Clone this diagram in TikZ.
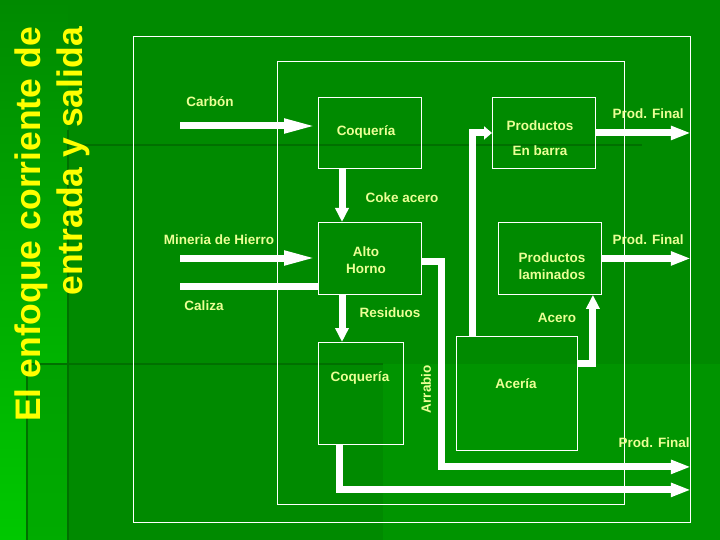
\documentclass[tikz,border=0pt]{standalone}
\usepackage{fontspec}
\setmainfont{Liberation Sans}
\usetikzlibrary{arrows.meta,calc}
\definecolor{bg}{RGB}{0,138,0}
\definecolor{bglow}{RGB}{0,148,0}
\definecolor{bgdark}{RGB}{0,112,0}
\definecolor{bglight}{RGB}{0,200,0}
\definecolor{txt}{RGB}{235,255,150}
\definecolor{ttl}{RGB}{255,255,0}
\begin{document}
\begin{tikzpicture}[x=1pt,y=-1pt,
  box/.style={draw=white,line width=0.9pt,inner sep=0pt,anchor=north west},
  lbl/.style={text=txt,font=\bfseries\fontsize{13.5}{15}\selectfont,inner sep=0pt},
  ttlstyle/.style={rotate=90,anchor=base east,inner sep=0pt,text=ttl,font=\bfseries\fontsize{35.5}{38}\selectfont},
  flow/.style={draw=white,line width=7pt},
  bighead/.style={-{Triangle[length=34pt,width=13pt]}},
  midhead/.style={-{Triangle[length=20pt,width=13pt]}},
  vhead/.style={-{Triangle[length=14pt,width=13pt]}},
  smallhead/.style={-{Triangle[length=8pt,width=13pt]}},
  deco/.style={draw=bgdark,line width=2.5pt}]
\useasboundingbox (0,0) rectangle (720,540);
% background
\fill[bg] (0,0) rectangle (720,540);
\shade[top color=bg,bottom color=bglight] (0,0) rectangle (68,540);
\fill[bg,opacity=0.45] (27,364) rectangle (68,540);
\fill[bglow] (383,364) rectangle (720,540);
\draw[deco] (68,130) -- (68,540);
\draw[deco] (27,364) -- (27,540);
\draw[deco] (30,364) -- (383,364);
\draw[deco] (68,145) -- (642,145);
% title
\node[ttlstyle] (t1) at (40,27) {El enfoque corriente de};
\node[ttlstyle] (t2) at (82,27) {entrada y salida};
% frames
\node[box,minimum width=557pt,minimum height=486pt] (outer) at (133,36) {};
\node[box,minimum width=347pt,minimum height=443pt] (inner) at (277,61) {};
% process boxes
\node[box,minimum width=103pt,minimum height=71pt] (coq1) at (318,97) {};
\node[box,minimum width=103pt,minimum height=71pt] (prodbar) at (492,97) {};
\node[box,minimum width=103pt,minimum height=72pt] (alto) at (318,222) {};
\node[box,minimum width=103pt,minimum height=72pt] (prodlam) at (498,222) {};
\node[box,minimum width=85pt,minimum height=102pt] (coq2) at (318,342) {};
\node[box,minimum width=121pt,minimum height=114pt] (aceria) at (456,336) {};
% free ends
\coordinate (carbonIn) at (180,126);
\coordinate (hierroIn) at (180,258);
\coordinate (calizaIn) at (180,286);
% flows
\draw[flow,bighead] (carbonIn) -- (carbonIn -| coq1.west);
\draw[flow,vhead] ($(coq1.south west)+(24,0)$) -- ($(alto.north west)+(24,0)$);
\draw[flow,midhead] (prodbar.east) -- (prodbar.east -| outer.east);
\draw[flow,bighead] (hierroIn) -- (hierroIn -| alto.west);
\draw[flow] (calizaIn) -- (calizaIn -| alto.west);
\draw[flow,vhead] ($(alto.south west)+(24,0)$) -- ($(coq2.north west)+(24,0)$);
\draw[flow,midhead] ($(alto.east)+(0,3)$) -- ($(alto.east)+(20,3)$) |- ($(outer.south east)+(0,-56)$);
\draw[flow,midhead] ($(coq2.south west)+(21,0)$) |- ($(outer.south east)+(0,-33)$);
\draw[flow,smallhead] ($(aceria.north west)+(16,0)$) |- (prodbar.west);
\draw[flow,vhead] ($(aceria.north east)+(0,27)$) -| ($(prodlam.south east)+(-9,0)$);
\draw[flow,midhead] (prodlam.east) -- (prodlam.east -| outer.east);
% labels
\node[lbl] (lcarbon) at (210,102) {Carbón};
\node[lbl] (lcoq1) at (366,132) {Coquería};
\node[lbl] (lprod1) at (540,126) {Productos};
\node[lbl] (lbarra) at (540,151) {En barra};
\node[lbl] (lpf1) at (648,114) {Prod. Final};
\node[lbl] (lcoke) at (402,198) {Coke acero};
\node[lbl] (lhierro) at (219,240) {Mineria de Hierro};
\node[lbl] (lalto) at (366,252) {Alto};
\node[lbl] (lhorno) at (366,269) {Horno};
\node[lbl] (lprod2) at (552,258) {Productos};
\node[lbl] (llam) at (552,275) {laminados};
\node[lbl] (lpf2) at (648,240) {Prod. Final};
\node[lbl] (lcaliza) at (204,306) {Caliza};
\node[lbl] (lres) at (390,313) {Residuos};
\node[lbl] (lacero) at (557,318) {Acero};
\node[lbl] (lcoq2) at (360,378) {Coquería};
\node[lbl] (lacer) at (516,384) {Acería};
\node[lbl,rotate=90] (larr) at (426,389) {Arrabio};
\node[lbl] (lpf3) at (654,443) {Prod. Final};
\end{tikzpicture}
\end{document}
